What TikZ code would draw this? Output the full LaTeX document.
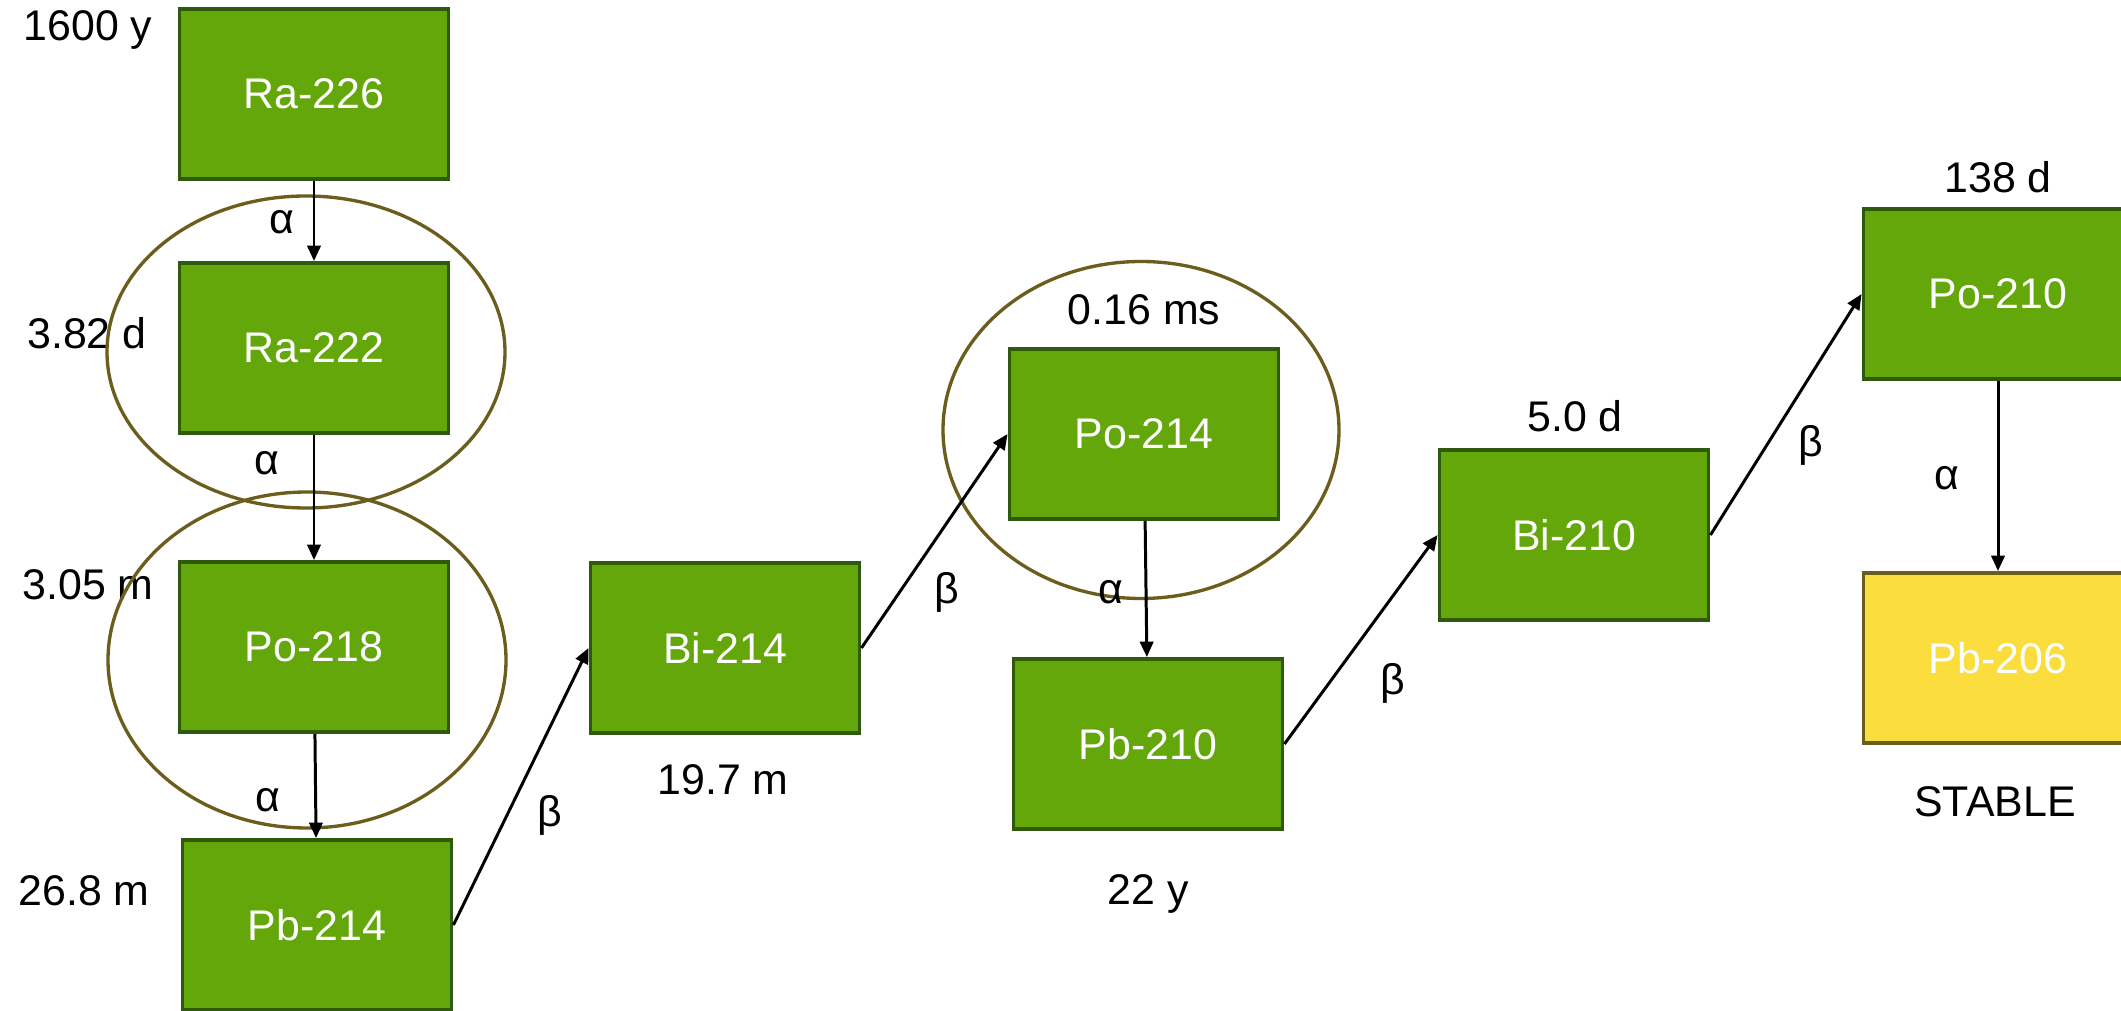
\documentclass[tikz,border=0pt]{standalone}
\usepackage{fontspec}
\setmainfont{Liberation Sans}
\usetikzlibrary{arrows.meta}

\definecolor{nuclidefill}{HTML}{64A70B}
\definecolor{nuclideedge}{HTML}{2F5A0C}
\definecolor{stablefill}{HTML}{FBDD3D}
\definecolor{ringcol}{HTML}{6B5E1C}

\tikzset{
  nuclide/.style={draw=nuclideedge, fill=nuclidefill, line width=1.1pt,
    minimum width=2.69cm, minimum height=1.70cm, text=white,
    font=\fontsize{12.2}{14}\selectfont},
  stablebox/.style={nuclide, draw=ringcol, fill=stablefill},
  halflife/.style={font=\fontsize{12.2}{14}\selectfont, inner sep=0pt},
  mode/.style={font=\fontsize{12.2}{14}\selectfont, inner sep=0pt},
  decay/.style={-{Triangle[length=4.4pt, width=3.8pt]}, line width=0.85pt},
  ring/.style={draw=ringcol, line width=0.95pt}
}

\begin{document}
\begin{tikzpicture}
            % Fix the page size
            \useasboundingbox (0,0) rectangle (21.21,-10.11);

            % Place the nuclides
            \node[nuclide] (ra226) at (3.14, -0.94) {Ra-226};
            \node[nuclide] (ra222) at (3.14, -3.48) {Ra-222};
            \node[nuclide] (po218) at (3.14, -6.47) {Po-218};
            \node[nuclide] (pb214) at (3.17, -9.25) {Pb-214};
            \node[nuclide] (bi214) at (7.25, -6.48) {Bi-214};
            \node[nuclide] (po214) at (11.44, -4.34) {Po-214};
            \node[nuclide] (pb210) at (11.48, -7.44) {Pb-210};
            \node[nuclide] (bi210) at (15.74, -5.35) {Bi-210};
            \node[nuclide] (po210) at (19.98, -2.94) {Po-210};
            \node[stablebox] (pb206) at (19.98, -6.58) {Pb-206};

            % Half-lives
            \node[halflife] (t226) at (0.88, -0.30) {1600 y};
            \node[halflife] (t222) at (0.87, -3.33) {3.82 d};
            \node[halflife] (t218) at (0.88, -5.85) {3.05 m};
            \node[halflife] (tpb214) at (0.84, -8.91) {26.8 m};
            \node[halflife] (tbi214) at (7.23, -7.80) {19.7 m};
            \node[halflife] (tpo214) at (11.44, -3.10) {0.16 ms};
            \node[halflife] (tpb210) at (11.48, -8.94) {22 y};
            \node[halflife] (tbi210) at (15.75, -4.16) {5.0 d};
            \node[halflife] (tpo210) at (19.98, -1.77) {138 d};
            \node[halflife] (tpb206) at (19.95, -8.02) {STABLE};

            % Short-lived groups
            \draw[ring] (3.06, -3.52) ellipse (1.99 and 1.56);
            \draw[ring] (3.07, -6.60) ellipse (1.99 and 1.68);
            \draw[ring] (11.41, -4.30) ellipse (1.98 and 1.685);

            % Draw the decays
            \draw[decay] (ra226) -- (ra222);              % alpha
            \draw[decay] (ra222) -- (po218);              % alpha
            \draw[decay] (po218) -- (pb214);              % alpha
            \draw[decay] (pb214.east) -- (bi214.west);    % beta
            \draw[decay] (bi214.east) -- (po214.west);    % beta
            \draw[decay] (po214) -- (pb210);              % alpha
            \draw[decay] (pb210.east) -- (bi210.west);    % beta
            \draw[decay] (bi210.east) -- (po210.west);    % beta
            \draw[decay] (po210) -- (pb206);              % alpha

            % Decay modes
            \node[mode] (m1) at (2.82, -2.22) {α};
            \node[mode] (m2) at (2.67, -4.63) {α};
            \node[mode] (m3) at (2.68, -8.00) {α};
            \node[mode] (m4) at (5.50, -8.15) {β};
            \node[mode] (m5) at (9.47, -5.92) {β};
            \node[mode] (m6) at (11.11, -5.92) {α};
            \node[mode] (m7) at (13.93, -6.83) {β};
            \node[mode] (m8) at (18.11, -4.45) {β};
            \node[mode] (m9) at (19.47, -4.78) {α};
        \end{tikzpicture}
\end{document}
